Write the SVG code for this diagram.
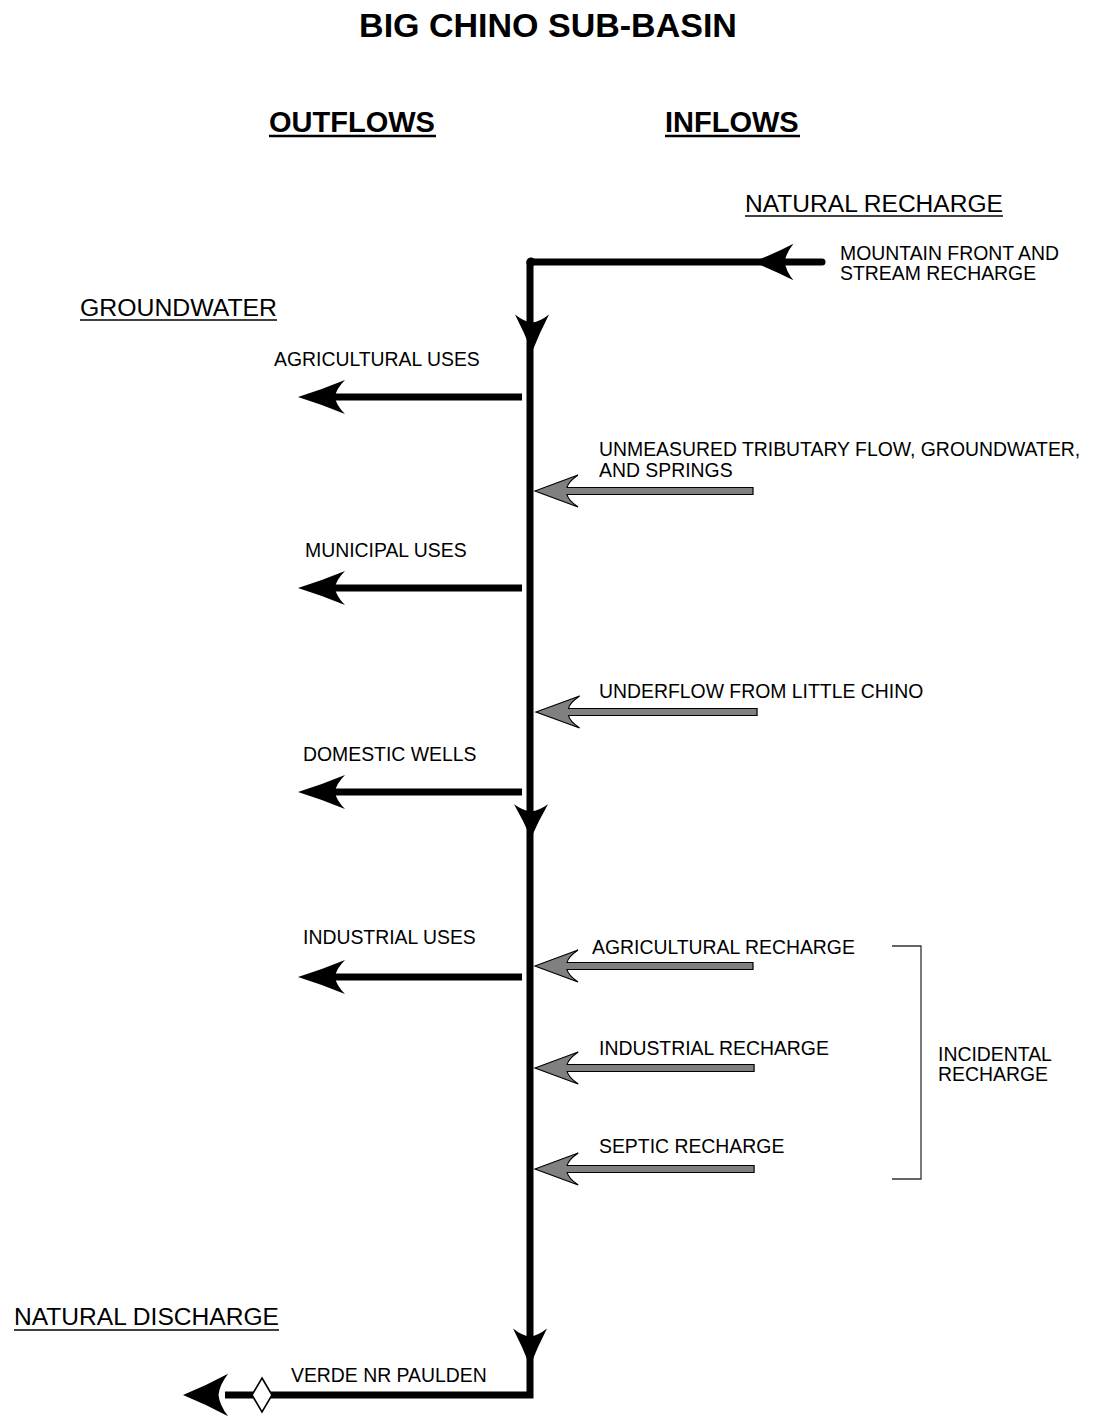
<svg xmlns="http://www.w3.org/2000/svg" width="1103" height="1416" viewBox="0 0 1103 1416">
<style>
text{font-family:"Liberation Sans",Arial,sans-serif;fill:#000}
.title{font-size:34px;font-weight:bold}
.col{font-size:29px;font-weight:bold}
.hdr{font-size:23.5px}
.lbl{font-size:19.4px}
.ul{stroke:#000;stroke-width:1.6}
.ulb{stroke:#000;stroke-width:2.6}
.flow{stroke:#000;stroke-width:7;fill:none}
.gray{fill:#808080;stroke:#000;stroke-width:1.2;stroke-linejoin:miter}
.br{stroke:#333;stroke-width:1.3;fill:none}
</style>
<defs>
<path id="ah" d="M0,0 Q24,-7.5 47,-17 Q38,-8 37,0 Q38,8 47,17 Q24,7.5 0,0 Z" fill="#000"/>
<path id="gh" d="M0,0 L43,-16 Q33,-9 32,-3.5 L218,-3.5 L218,3.5 L32,3.5 Q33,9 43,16 Z" class="gray"/>
</defs>
<rect width="1103" height="1416" fill="#fff"/>

<g id="title"><text class="title" x="548" y="37" text-anchor="middle">BIG CHINO SUB-BASIN</text></g>
<g id="outflows"><text class="col" x="269" y="132">OUTFLOWS</text><line class="ulb" x1="269" y1="136" x2="436" y2="136"/></g>
<g id="inflows"><text class="col" x="665" y="132">INFLOWS</text><line class="ulb" x1="665" y1="136" x2="800" y2="136"/></g>

<g id="natural-recharge"><text class="hdr" x="745" y="212" textLength="258" lengthAdjust="spacingAndGlyphs">NATURAL RECHARGE</text><line class="ul" x1="745" y1="216" x2="1003" y2="216"/></g>
<g id="groundwater"><text class="hdr" x="80" y="316" textLength="197" lengthAdjust="spacingAndGlyphs">GROUNDWATER</text><line class="ul" x1="80" y1="320" x2="277" y2="320"/></g>
<g id="natural-discharge"><text class="hdr" x="14" y="1325" textLength="265" lengthAdjust="spacingAndGlyphs">NATURAL DISCHARGE</text><line class="ul" x1="14" y1="1330" x2="279" y2="1330"/></g>

<g id="mountain-front"><text class="lbl" x="840" y="260">MOUNTAIN FRONT AND</text><text class="lbl" x="840" y="280">STREAM RECHARGE</text></g>
<g id="agricultural-uses"><text class="lbl" x="274" y="366">AGRICULTURAL USES</text></g>
<g id="unmeasured"><text class="lbl" x="599" y="456">UNMEASURED TRIBUTARY FLOW, GROUNDWATER,</text><text class="lbl" x="599" y="477">AND SPRINGS</text></g>
<g id="municipal-uses"><text class="lbl" x="305" y="557">MUNICIPAL USES</text></g>
<g id="underflow"><text class="lbl" x="599" y="698">UNDERFLOW FROM LITTLE CHINO</text></g>
<g id="domestic-wells"><text class="lbl" x="303" y="761">DOMESTIC WELLS</text></g>
<g id="industrial-uses"><text class="lbl" x="303" y="944">INDUSTRIAL USES</text></g>
<g id="agricultural-recharge"><text class="lbl" x="592" y="954">AGRICULTURAL RECHARGE</text></g>
<g id="industrial-recharge"><text class="lbl" x="599" y="1055">INDUSTRIAL RECHARGE</text></g>
<g id="septic-recharge"><text class="lbl" x="599" y="1153">SEPTIC RECHARGE</text></g>
<g id="incidental-recharge"><text class="lbl" x="938" y="1061">INCIDENTAL</text><text class="lbl" x="938" y="1081">RECHARGE</text>
<path class="br" d="M892,946 H921 V1179 H892"/></g>
<g id="verde"><text class="lbl" x="291" y="1382">VERDE NR PAULDEN</text></g>

<g id="connectors">
<path class="flow" d="M530,262 V1395 H225" stroke-linejoin="miter"/>
<line class="flow" x1="530" y1="262" x2="822" y2="262" stroke-linecap="round"/>
<circle cx="531" cy="262" r="4.5" fill="#000"/>
<use href="#ah" transform="translate(753,262) scale(0.86,1.08)"/>
<use href="#ah" transform="translate(532,352) rotate(-90) scale(0.8,1)"/>
<use href="#ah" transform="translate(531,838) rotate(-90) scale(0.72,1)"/>
<use href="#ah" transform="translate(530,1366) rotate(-90) scale(0.8,1)"/>
<line class="flow" x1="522" y1="397" x2="335" y2="397"/>
<use href="#ah" transform="translate(298,397)"/>
<line class="flow" x1="522" y1="588" x2="335" y2="588"/>
<use href="#ah" transform="translate(298,588)"/>
<line class="flow" x1="522" y1="792" x2="335" y2="792"/>
<use href="#ah" transform="translate(298,792)"/>
<line class="flow" x1="522" y1="977" x2="335" y2="977"/>
<use href="#ah" transform="translate(298,977)"/>
<use href="#ah" transform="translate(183,1395) scale(0.96,1.25)"/>
<path d="M262,1378 L272,1395 L262,1412 L252,1395 Z" fill="#fff" stroke="#000" stroke-width="1.6"/>
<use href="#gh" transform="translate(535,491)"/>
<use href="#gh" transform="translate(536,712) scale(1.014,1)"/>
<use href="#gh" transform="translate(535,966)"/>
<use href="#gh" transform="translate(535,1068) scale(1.005,1)"/>
<use href="#gh" transform="translate(535,1169) scale(1.005,1)"/>
</g>
</svg>
